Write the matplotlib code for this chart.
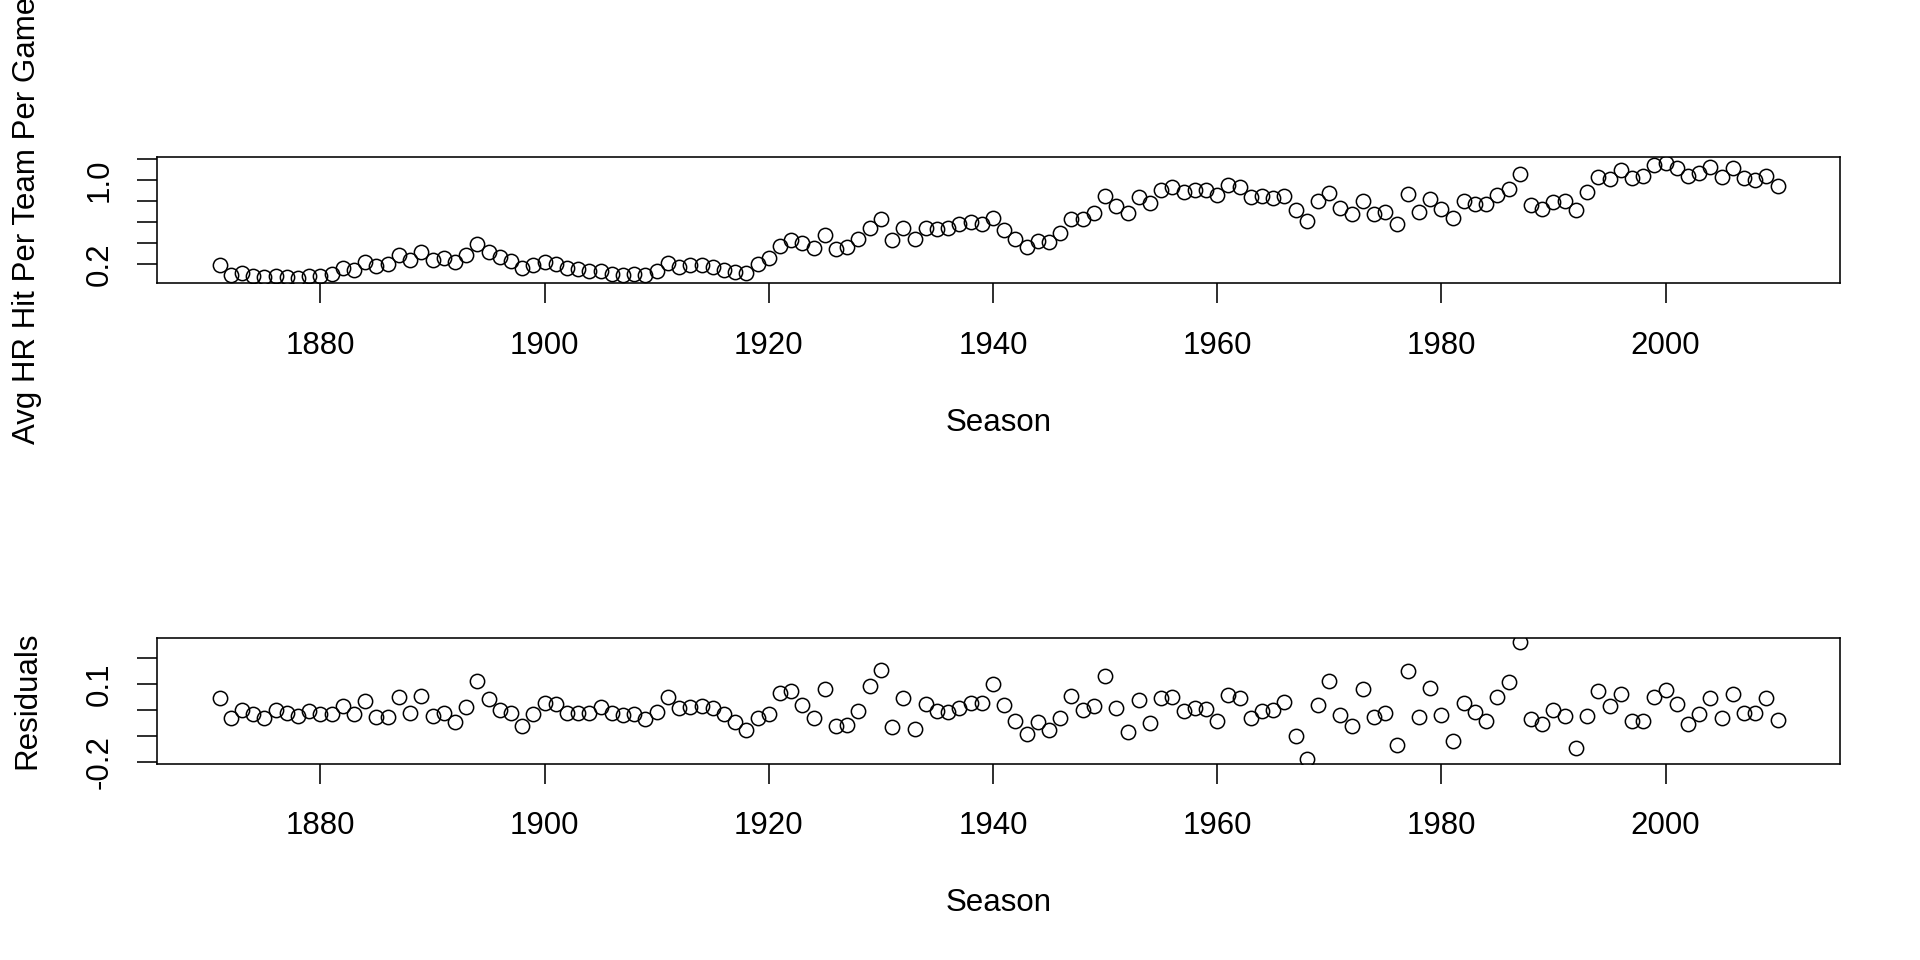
import numpy as np
import matplotlib
matplotlib.use("Agg")
import matplotlib.pyplot as plt

seasons = list(range(1871, 2011))

avg_hr = [
    0.187, 0.096, 0.118, 0.089, 0.073, 0.086, 0.080, 0.070, 0.089, 0.089,  # 1871-1880
    0.105, 0.159, 0.143, 0.219, 0.181, 0.200, 0.285, 0.238, 0.311, 0.238,  # 1881-1890
    0.260, 0.222, 0.289, 0.387, 0.311, 0.263, 0.232, 0.159, 0.190, 0.222,  # 1891-1900
    0.200, 0.159, 0.149, 0.134, 0.137, 0.105, 0.092, 0.102, 0.092, 0.137,  # 1901-1910
    0.206, 0.175, 0.187, 0.187, 0.168, 0.143, 0.127, 0.111, 0.197, 0.260,  # 1911-1920
    0.374, 0.428, 0.396, 0.355, 0.478, 0.342, 0.365, 0.437, 0.548, 0.627,  # 1921-1930
    0.425, 0.548, 0.434, 0.545, 0.535, 0.548, 0.580, 0.599, 0.586, 0.636,  # 1931-1940
    0.526, 0.437, 0.365, 0.418, 0.406, 0.491, 0.627, 0.627, 0.687, 0.846,  # 1941-1950
    0.754, 0.687, 0.839, 0.782, 0.903, 0.934, 0.887, 0.909, 0.909, 0.861,  # 1951-1960
    0.953, 0.934, 0.839, 0.849, 0.830, 0.846, 0.713, 0.611, 0.801, 0.880,  # 1961-1970
    0.738, 0.675, 0.801, 0.681, 0.697, 0.580, 0.871, 0.697, 0.817, 0.722,  # 1971-1980
    0.634, 0.798, 0.776, 0.770, 0.861, 0.912, 1.061, 0.760, 0.725, 0.792,  # 1981-1990
    0.801, 0.713, 0.887, 1.029, 1.007, 1.092, 1.023, 1.039, 1.146, 1.162,  # 1991-2000
    1.118, 1.039, 1.070, 1.124, 1.029, 1.114, 1.020, 0.997, 1.039, 0.944,  # 2001-2010
]

residuals = [
    0.046, -0.031, 0.003, -0.014, -0.031, 0.001, -0.009, -0.021, -0.003, -0.013,  # 1871-1880
    -0.013, 0.018, -0.013, 0.036, -0.026, -0.026, 0.053, -0.009, 0.055, -0.022,  # 1881-1890
    -0.009, -0.046, 0.014, 0.114, 0.042, 0.003, -0.012, -0.059, -0.013, 0.028,  # 1891-1900
    0.023, -0.010, -0.009, -0.010, 0.014, -0.012, -0.018, -0.013, -0.035, -0.005,  # 1901-1910
    0.050, 0.008, 0.014, 0.017, 0.008, -0.014, -0.044, -0.076, -0.031, -0.013,  # 1911-1920
    0.065, 0.076, 0.021, -0.031, 0.082, -0.060, -0.056, -0.003, 0.094, 0.156,  # 1921-1930
    -0.065, 0.046, -0.073, 0.024, -0.003, -0.008, 0.008, 0.027, 0.027, 0.101,  # 1931-1940
    0.020, -0.041, -0.091, -0.044, -0.076, -0.031, 0.055, 0.001, 0.018, 0.132,  # 1941-1950
    0.010, -0.085, 0.040, -0.050, 0.046, 0.053, -0.003, 0.008, 0.005, -0.041,  # 1951-1960
    0.059, 0.049, -0.031, -0.003, 0.001, 0.033, -0.099, -0.188, 0.021, 0.114,  # 1961-1970
    -0.018, -0.060, 0.082, -0.027, -0.012, -0.133, 0.153, -0.024, 0.085, -0.018,  # 1971-1980
    -0.118, 0.029, -0.008, -0.040, 0.053, 0.110, 0.262, -0.035, -0.054, 0.001,  # 1981-1990
    -0.022, -0.146, -0.022, 0.074, 0.017, 0.062, -0.040, -0.040, 0.053, 0.078,  # 1991-2000
    0.024, -0.054, -0.014, 0.049, -0.031, 0.063, -0.012, -0.012, 0.046, -0.037,  # 2001-2010
]

x_ticks = [1880, 1900, 1920, 1940, 1960, 1980, 2000]
top_yticks = [0.2, 0.4, 0.6, 0.8, 1.0, 1.2]
top_ylabels = ["0.2", "", "", "", "1.0", ""]
bot_yticks = [-0.2, -0.1, 0.0, 0.1, 0.2]
bot_ylabels = ["-0.2", "", "", "0.1", ""]

FONT = "Liberation Sans"
FS = 22.5
W, H = 1920, 960

plt.rcParams["font.family"] = [FONT, "DejaVu Sans"]

fig = plt.figure(figsize=(W / 100, H / 100), dpi=100)
fig.patch.set_facecolor("white")

def px2fig(x, y):
    return x / W, 1 - y / H

left_px, right_px = 157.2, 1840.0
panels = [
    dict(top=157.0, bottom=283.3, y=avg_hr, ylim=(0.017, 1.219),
         yticks=top_yticks, ylabels=top_ylabels,
         ylabel="Avg HR Hit Per Team Per Game"),
    dict(top=637.5, bottom=763.5, y=residuals, ylim=(-0.2046, 0.280),
         yticks=bot_yticks, ylabels=bot_ylabels, ylabel="Residuals"),
]

xlo, xhi = 1871 - 0.04 * (2010 - 1871), 2010 + 0.04 * (2010 - 1871)

for p in panels:
    ax = fig.add_axes([left_px / W, 1 - p["bottom"] / H,
                       (right_px - left_px) / W, (p["bottom"] - p["top"]) / H])
    ax.plot(seasons, p["y"], linestyle="none", marker="o", markersize=10.3,
            markerfacecolor="none", markeredgecolor="black", markeredgewidth=1.1)
    ax.set_xlim(xlo, xhi)
    ax.set_ylim(*p["ylim"])
    for s in ax.spines.values():
        s.set_linewidth(1.15)
        s.set_color("black")
    ax.set_xticks(x_ticks)
    ax.set_xticklabels([str(t) for t in x_ticks], fontsize=FS)
    ax.set_yticks(p["yticks"])
    ax.set_yticklabels(p["ylabels"], fontsize=FS, rotation=90, va="center")
    ax.tick_params(axis="both", direction="out", length=14.4, width=1.15,
                   color="black")
    ax.tick_params(axis="x", pad=20)
    ax.tick_params(axis="y", pad=16)
    # x label "Season"
    cx = (left_px + right_px) / 2
    fx, fy = px2fig(cx, p["bottom"] + 147.4)
    fig.text(fx, fy, "Season", fontsize=FS, ha="center", va="baseline")
    # y label
    cy = (p["top"] + p["bottom"]) / 2
    fx, fy = px2fig(35, cy)
    fig.text(fx, fy, p["ylabel"], fontsize=FS, rotation=90,
             rotation_mode="anchor", ha="center", va="baseline")

fig.savefig("out.png", dpi=100, facecolor="white")
